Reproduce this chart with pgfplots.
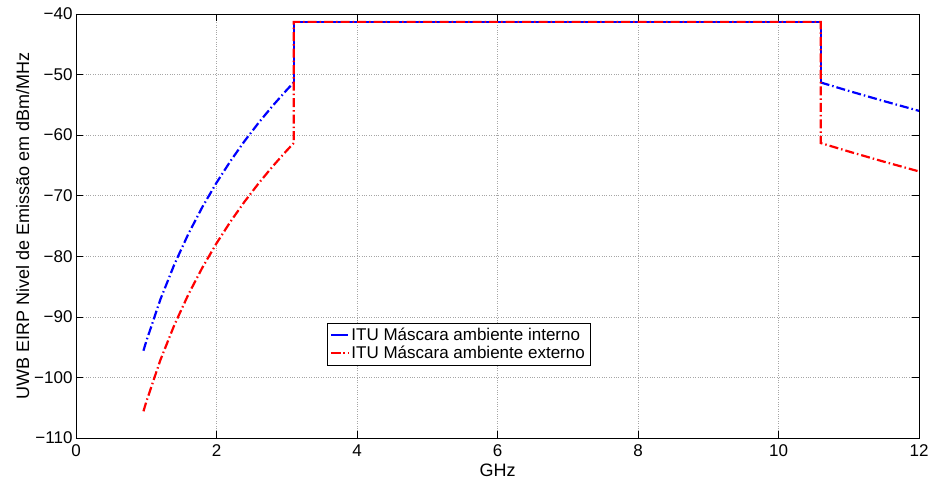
\documentclass[border=0pt]{standalone}
\usepackage{fontspec}
\setmainfont{Liberation Sans}
\usepackage{pgfplots}
\pgfplotsset{compat=1.18}
\begin{document}
\begin{tikzpicture}
\begin{axis}[
  scale only axis,
  width=843pt, height=424pt,
  xmin=0, xmax=12, ymin=-110, ymax=-40,
  xtick={0,2,4,6,8,10,12},
  ytick={-110,-100,-90,-80,-70,-60,-50,-40},
  yticklabels={−110,−100,−90,−80,−70,−60,−50,−40},
  /pgf/number format/assume math mode=true,
  tick align=inside,
  major tick length=7pt,
  tick style={black, line width=0.6pt},
  axis line style={black, line width=0.8pt},
  grid=major,
  major grid style={gray!70, dotted, line width=0.7pt},
  tick label style={font=\fontsize{17}{19}\selectfont},
  xticklabel style={yshift=-3pt},
  label style={font=\fontsize{18}{21}\selectfont},
  xlabel={GHz},
  ylabel={UWB EIRP Nivel de Emissão em dBm/MHz},
  xlabel style={at={(axis description cs:0.5,0)}, anchor=north, inner sep=0pt, yshift=-26pt},
  ylabel style={yshift=-2pt},
  legend style={at={(0.2977,0.271)}, anchor=north west,
    font=\fontsize{17}{19}\selectfont, inner sep=3pt, row sep=0pt},
  legend cell align=left,
  dashdot/.style={dash pattern=on 9pt off 3pt on 1.5pt off 3pt},
]
\addlegendimage{blue, line width=2.2pt}
\addlegendentry{ITU Máscara ambiente interno}
\addlegendimage{red, line width=2.2pt, dashdot}
\addlegendentry{ITU Máscara ambiente externo}
% indoor (blue): dash-dot below 3.1, solid 3.1-10.6, dash-dot above
\addplot[blue, line width=2.2pt, forget plot, dashdot] coordinates {
(0.96,-95.59) (1.0,-94.05) (1.2,-87.16) (1.4,-81.34) (1.6,-76.29) (1.8,-71.84)
(2.0,-67.86) (2.2,-64.26) (2.4,-60.97) (2.6,-57.95) (2.8,-55.15) (3.0,-52.54) (3.1,-51.3)};
\addplot[blue, line width=2.2pt, forget plot] coordinates {
(3.1,-51.3) (3.1,-41.3) (10.6,-41.3) (10.6,-51.3)};
\addplot[blue, line width=2.2pt, forget plot, dashdot] coordinates {
(10.6,-51.3) (11.0,-52.70) (11.5,-54.38) (12.0,-55.99)};
% outdoor (red): dash-dot everywhere
\addplot[red, line width=2.2pt, forget plot, dashdot] coordinates {
(0.96,-105.59) (1.0,-104.05) (1.2,-97.16) (1.4,-91.34) (1.6,-86.29) (1.8,-81.84)
(2.0,-77.86) (2.2,-74.26) (2.4,-70.97) (2.6,-67.95) (2.8,-65.15) (3.0,-62.54) (3.1,-61.3)
(3.1,-41.3) (10.6,-41.3) (10.6,-61.3)
(11.0,-62.70) (11.5,-64.38) (12.0,-65.99)};
\end{axis}
\pgfresetboundingbox
\path (current axis.south west) ++(-76pt,-42pt) coordinate (a);
\path (current axis.north east) ++(10pt,14pt) coordinate (b);
\useasboundingbox (a) rectangle (b);
\end{tikzpicture}
\end{document}
